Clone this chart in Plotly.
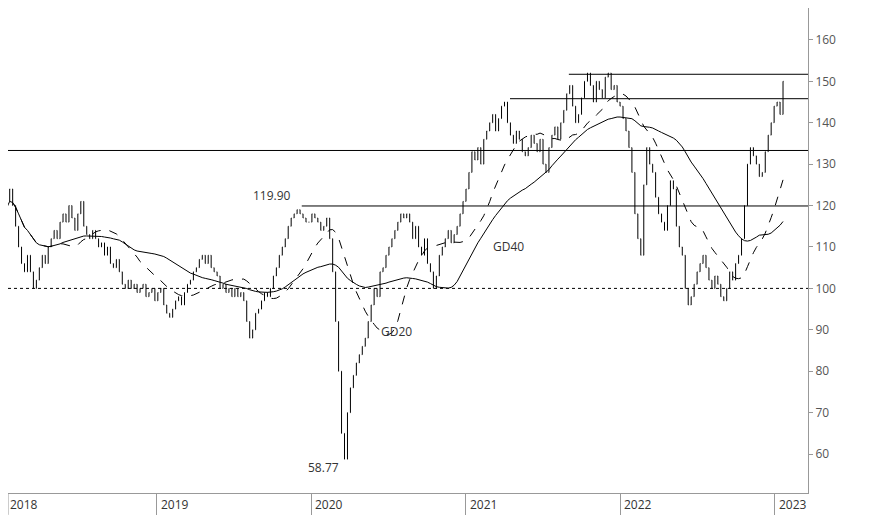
import pandas as pd
import plotly.graph_objects as go

# weekly closes
close_2018 = [118, 121, 124, 120, 115, 110, 106, 104, 108, 104, 100, 102, 105, 108, 106, 110, 112,
              114, 112, 116, 118, 116, 120, 117, 114, 118, 121, 115, 113, 112, 114, 112, 110, 111,
              108, 110, 106, 105, 107, 104, 101, 100, 102, 100, 101, 99, 100, 101, 98, 99, 100, 97]
close_2019 = [99, 100, 96, 94, 93, 95, 97, 98, 96, 99, 101, 102, 104, 105, 107, 108, 106, 108, 105,
              104, 103, 100, 101, 99, 100, 98, 100, 98, 99, 97, 92, 88, 90, 94, 95, 97, 99, 98, 100,
              103, 105, 108, 110, 112, 115, 117, 118, 119, 118, 117, 116, 116]
close_2020 = [118, 117, 116, 114, 115, 117, 112, 104, 92, 80, 65, 58.77, 70, 76, 79, 82, 84, 86, 88,
              92, 96, 100, 98, 104, 105, 108, 110, 112, 114, 116, 118, 117, 118, 116, 112, 115, 110,
              108, 112, 106, 104, 100, 103, 108, 110, 112, 114, 111, 113, 115, 118, 121]
close_2021 = [124, 128, 133, 131, 134, 130, 136, 138, 140, 142, 138, 141, 144, 145, 140, 137, 135,
              138, 136, 133, 132, 134, 137, 135, 133, 136, 130, 128, 134, 137, 139, 136, 140, 143,
              147, 149, 144, 140, 142, 146, 150, 152, 149, 145, 150, 148, 146, 151, 152, 148, 149, 145]
close_2022 = [144, 141, 138, 134, 128, 118, 112, 108, 125, 134, 130, 128, 122, 118, 116, 114, 120,
              126, 124, 115, 110, 108, 100, 96, 98, 101, 104, 106, 108, 105, 102, 100, 103, 101, 98,
              97, 100, 104, 102, 106, 108, 112, 120, 130, 134, 132, 130, 127, 128, 133, 137, 140]
close_2023 = [144, 145, 142, 150]

levels = [151.7, 145.8, 133.3, 119.9]
level_start = ["2021-09-01", "2021-04-15", "2017-12-25", "2019-12-10"]
base_level = 100
years = [2019, 2020, 2021, 2022, 2023]

close = close_2018 + close_2019 + close_2020 + close_2021 + close_2022 + close_2023
dates = pd.date_range("2018-01-05", periods=len(close), freq="W-FRI")
s = pd.Series(close, index=dates)
op = s.shift(1).fillna(s.iloc[0])
hi = pd.concat([op, s], axis=1).max(axis=1)
lo = pd.concat([op, s], axis=1).min(axis=1)
gd20 = s.rolling(20, min_periods=1).mean()
gd40 = s.rolling(40, min_periods=1).mean()
low_date = str(s.idxmin().date())

fig = go.Figure()
fig.add_trace(go.Ohlc(x=dates, open=op, high=hi, low=lo, close=s, tickwidth=0.15,
                      increasing_line_color="black", decreasing_line_color="black",
                      line_width=1, hoverinfo="skip"))
fig.add_trace(go.Scatter(x=dates, y=gd20, mode="lines", line=dict(color="black", width=1, dash="dash")))
fig.add_trace(go.Scatter(x=dates, y=gd40, mode="lines", line=dict(color="black", width=1)))

for lv, st in zip(levels, level_start):
    fig.add_shape(type="line", x0=st, x1="2023-03-25", xref="x", y0=lv, y1=lv, yref="y",
                  line=dict(color="black", width=1))
fig.add_shape(type="line", x0=0, x1=1, xref="paper", y0=base_level, y1=base_level, yref="y",
              line=dict(color="black", width=1, dash="dot"))
# first year tick sits at the left edge
fig.add_shape(type="line", x0=0, x1=0, xref="paper", y0=0, y1=-0.045, yref="paper",
              line=dict(color="#999", width=1))

fig.add_annotation(x="2019-11-20", y=119.9, text="119.90", showarrow=False, xanchor="right", yanchor="bottom")
fig.add_annotation(x=low_date, y=58.77, text="58.77", showarrow=False,
                   xanchor="right", yshift=-8, xshift=-4)
fig.add_annotation(x="2021-03-01", y=110, text="GD40", showarrow=False, xanchor="left")
fig.add_annotation(x="2020-06-10", y=89.5, text="GD20", showarrow=False, xanchor="left")
fig.add_annotation(x=0, xref="paper", y=0, yref="paper", text="2018", showarrow=False,
                   xanchor="left", yanchor="top", xshift=0, yshift=-1)
for y in years:
    fig.add_annotation(x=f"{y}-01-01", y=0, yref="paper", text=str(y), showarrow=False,
                       xanchor="left", yanchor="top", xshift=2, yshift=-1)

fig.update_layout(
    width=866, height=507, showlegend=False, plot_bgcolor="white", paper_bgcolor="white",
    margin=dict(l=0, r=66, t=0, b=22),
    font=dict(family="Open Sans, DejaVu Sans", size=12, color="#333"),
    xaxis=dict(type="date", range=["2018-01-15", "2023-03-20"], rangeslider_visible=False,
               showgrid=False, showticklabels=False, tickvals=[f"{y}-01-01" for y in years],
               ticks="outside", ticklen=22, tickcolor="#999", showline=True, linecolor="#999"),
    yaxis=dict(side="right", range=[50.6, 167.7], tickvals=list(range(60, 161, 10)),
               showgrid=False, ticks="outside", ticklen=4, tickcolor="#999",
               showline=True, linecolor="#999", tickfont=dict(color="#555", size=12)),
)
fig.write_html("out.html")
